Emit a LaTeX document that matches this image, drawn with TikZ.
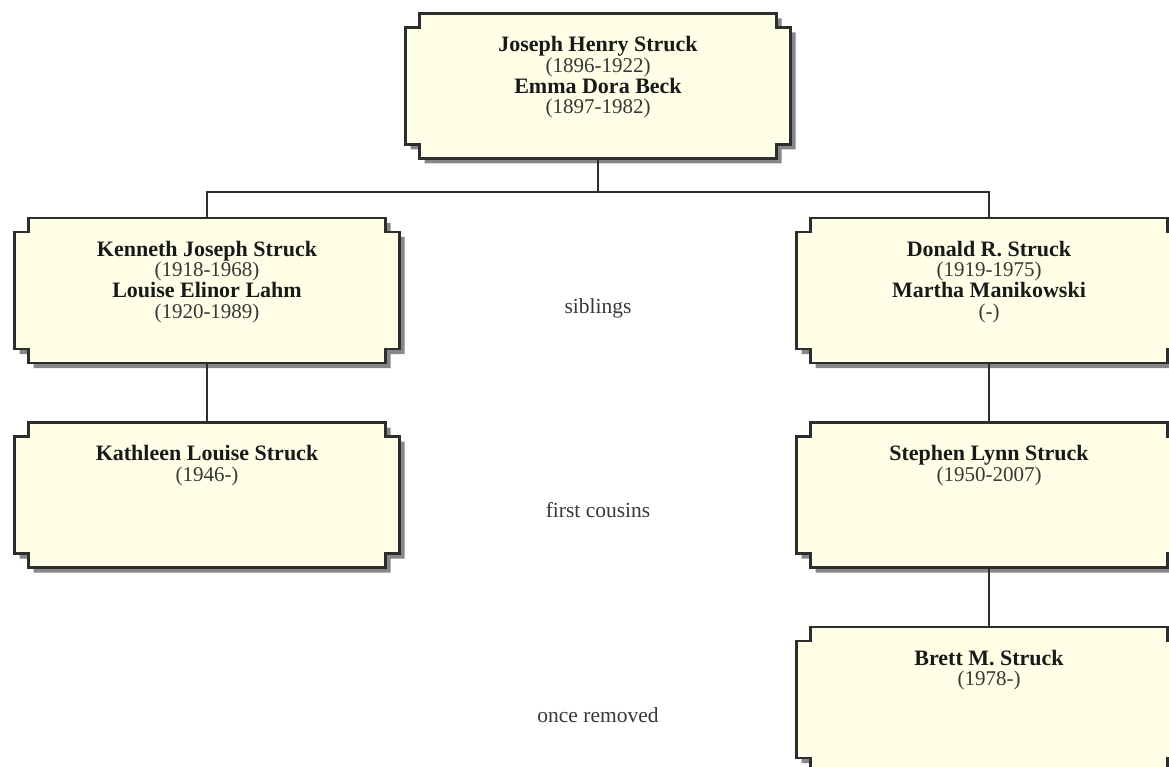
\documentclass[tikz,border=0pt]{standalone}
\usepackage{fontspec}
\setmainfont{Liberation Serif}
\usetikzlibrary{positioning}

\definecolor{cardface}{RGB}{255,255,231}
\definecolor{cardline}{RGB}{45,45,45}
\definecolor{cardshade}{RGB}{135,135,135}
\definecolor{inktext}{RGB}{25,25,25}
\definecolor{datetext}{RGB}{55,55,55}

\newcommand{\who}[1]{{\fontsize{22}{20.7}\selectfont\bfseries\color{inktext}#1}}
\newcommand{\yrs}[1]{{\fontsize{21}{20.7}\selectfont\color{datetext}#1}}
% notched outline of a card, centred on the origin
\newcommand{\notchoutline}{(-178.5,-72.5) -- (178.5,-72.5) -- (178.5,-58.5) -- (192.5,-58.5)
  -- (192.5,58.5) -- (178.5,58.5) -- (178.5,72.5) -- (-178.5,72.5) -- (-178.5,58.5)
  -- (-192.5,58.5) -- (-192.5,-58.5) -- (-178.5,-58.5) -- cycle}

\tikzset{
  person/.style={minimum width=385pt, minimum height=145pt, inner sep=0pt},
  persontext/.style={align=center, inner sep=0pt, font=\fontsize{21}{20.7}\selectfont},
  kin/.style={anchor=base, inner sep=0pt, text=datetext, font=\fontsize{21.5}{24}\selectfont},
  link/.style={draw=cardline, line width=1.4pt},
  cardshadow/.style={fill=cardshade},
  cardbody/.style={fill=cardface, draw=cardline, line width=2.2pt}
}

\begin{document}
\begin{tikzpicture}[x=1pt, y=-1pt]
\useasboundingbox (0,0) rectangle (1169,767);
\clip (0,0) rectangle (1169,767);

% Family cards
\foreach \nm/\cx/\cy in {joseph/598/86, kenneth/207/290.5, donald/989/290.5,
  kathleen/207/495, stephen/989/495, brett/989/699.5}
{
  \path[cardshadow, shift={(\cx+5,\cy+5)}] \notchoutline;
  \path[cardbody, shift={(\cx,\cy)}] \notchoutline;
  \node[person] (\nm) at (\cx,\cy) {};
}

% Names
\node[persontext, below=23pt of joseph.north] (joseph-txt)
  {\who{Joseph Henry Struck}\\\yrs{(1896-1922)}\\\who{Emma Dora Beck}\\\yrs{(1897-1982)}};
\node[persontext, below=23pt of kenneth.north] (kenneth-txt)
  {\who{Kenneth Joseph Struck}\\\yrs{(1918-1968)}\\\who{Louise Elinor Lahm}\\\yrs{(1920-1989)}};
\node[persontext, below=23pt of donald.north] (donald-txt)
  {\who{Donald R. Struck}\\\yrs{(1919-1975)}\\\who{Martha Manikowski}\\\yrs{(-)}};
\node[persontext, below=23pt of kathleen.north] (kathleen-txt)
  {\who{Kathleen Louise Struck}\\\yrs{(1946-)}};
\node[persontext, below=23pt of stephen.north] (stephen-txt)
  {\who{Stephen Lynn Struck}\\\yrs{(1950-2007)}};
\node[persontext, below=23pt of brett.north] (brett-txt)
  {\who{Brett M. Struck}\\\yrs{(1978-)}};

% Lines of descent
\draw[link] (joseph.south) -- ++(0,33.5) coordinate (bus);
\draw[link] (kenneth.north) |- (bus) -| (donald.north);
\draw[link] (kenneth.south) -- (kathleen.north);
\draw[link] (donald.south) -- (stephen.north);
\draw[link] (stephen.south) -- (brett.north);

% Relationship labels
\node[kin] (siblings) at (598,313) {siblings};
\node[kin] (cousins) at (598,517.5) {first cousins};
\node[kin] (removed) at (598,722) {once removed};
\end{tikzpicture}
\end{document}
